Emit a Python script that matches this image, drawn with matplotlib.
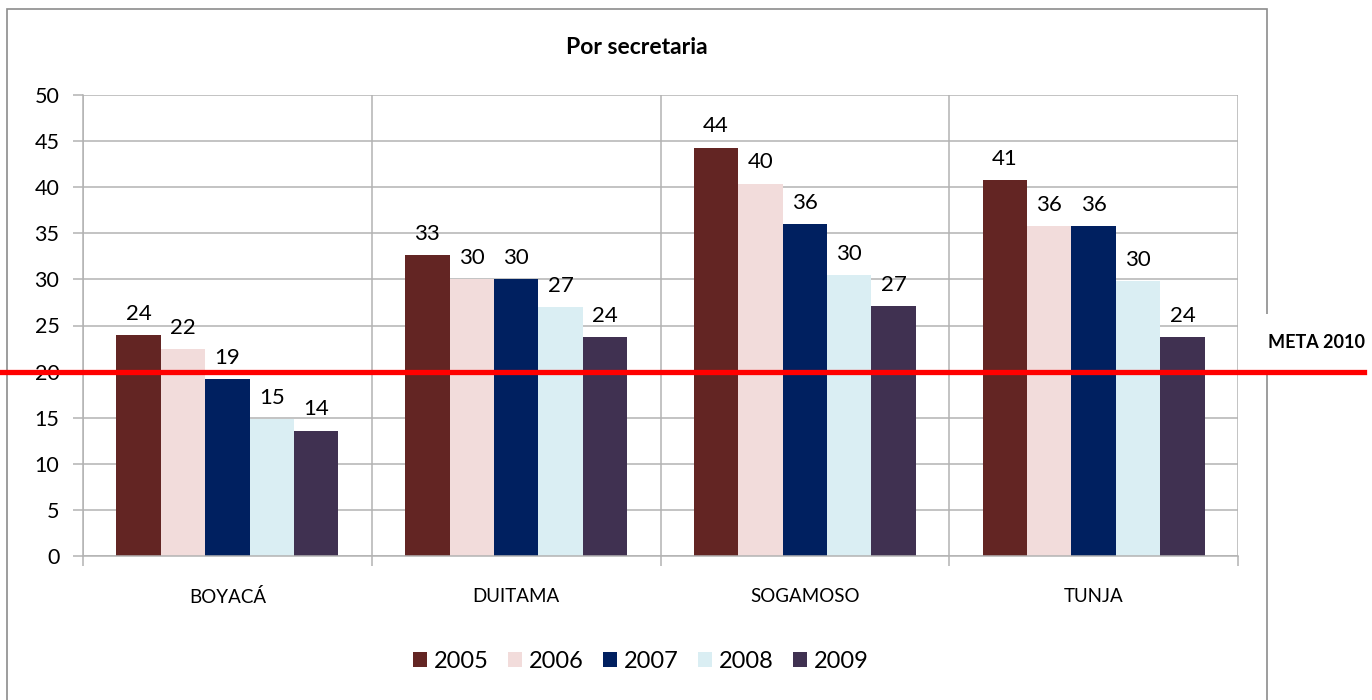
import matplotlib
matplotlib.use('Agg')
import matplotlib.pyplot as plt
import matplotlib.transforms as mtransforms
from matplotlib.lines import Line2D
from matplotlib.patches import Rectangle
import numpy as np

plt.rcParams['font.family'] = ['Lato', 'DejaVu Sans']

categories = ['BOYACÁ', 'DUITAMA', 'SOGAMOSO', 'TUNJA']
years = ['2005', '2006', '2007', '2008', '2009']
v2005 = [24.0, 32.6, 44.3, 40.8]
v2006 = [22.4, 30.0, 40.4, 35.8]
v2007 = [19.2, 30.0, 36.0, 35.8]
v2008 = [14.9, 27.0, 30.5, 29.8]
v2009 = [13.6, 23.7, 27.1, 23.7]
meta = 20
meta_label = 'META 2010'
title = 'Por secretaria'

series = [v2005, v2006, v2007, v2008, v2009]
colors = ['#632523', '#F2DCDB', '#002060', '#DAEEF3', '#403151']
grid_c = '#b3b3b3'

fig = plt.figure(figsize=(13.72, 7), dpi=100)
ax = fig.add_axes([83/1372, 1-556/700, (1238-83)/1372, (556-95)/700])

x = np.arange(len(categories)) + 0.5
w = 44.4 / 288.75
for i, (vals, c, yr) in enumerate(zip(series, colors, years)):
    bars = ax.bar(x + (i - 2) * w, vals, width=w, color=c, label=yr, zorder=2)
    ax.bar_label(bars, fmt='%.0f', padding=8, fontsize=16)

ax.set_xlim(0, 4)
ax.set_ylim(0, 50)
ax.set_yticks(range(0, 51, 5))
ax.set_xticks(x)
ax.set_xticklabels(categories, fontsize=13.5)
ax.set_xticks(range(0, 5), minor=True)
ax.tick_params(axis='x', which='major', length=0, pad=23)
ax.tick_params(axis='x', which='minor', length=7, color=grid_c, width=1.1)
ax.tick_params(axis='y', length=7, color=grid_c, width=1.1, labelsize=15.5, pad=10)
ax.grid(axis='y', color=grid_c, linewidth=1.1, zorder=0)
ax.grid(axis='x', which='minor', color=grid_c, linewidth=1.1, zorder=0)
ax.set_axisbelow(True)
for s in ['top', 'right']:
    ax.spines[s].set_visible(False)
for s in ['left', 'bottom']:
    ax.spines[s].set_color(grid_c)
    ax.spines[s].set_linewidth(1.1)

# chart border
fig.add_artist(Rectangle((7/1372, -0.05), (1267-7)/1372, 1.05-8.5/700,
                         transform=fig.transFigure, fill=False,
                         edgecolor='#8c8c8c', linewidth=1.2, zorder=-1))

fig.text(637/1372, 1-48/700, title, ha='center', va='center',
         fontsize=16.5, fontweight='bold')

# meta line
trans = mtransforms.blended_transform_factory(fig.transFigure, ax.transData)
fig.add_artist(Line2D([0, 1364/1372], [meta, meta], transform=trans,
                      color='#ff0000', linewidth=3.8, zorder=5))
fig.text(1268/1372, 23.2, meta_label, transform=trans, ha='left', va='center',
         fontsize=13, fontweight='bold', zorder=4,
         bbox=dict(facecolor='white', edgecolor='none', pad=14))

ax.legend(loc='center', bbox_to_anchor=(641/1372, 1-661/700),
          bbox_transform=fig.transFigure, ncol=5, frameon=False,
          fontsize=17, handlelength=0.6, handleheight=0.6,
          handletextpad=0.3, columnspacing=0.8)

fig.savefig('out.png', dpi=100)
